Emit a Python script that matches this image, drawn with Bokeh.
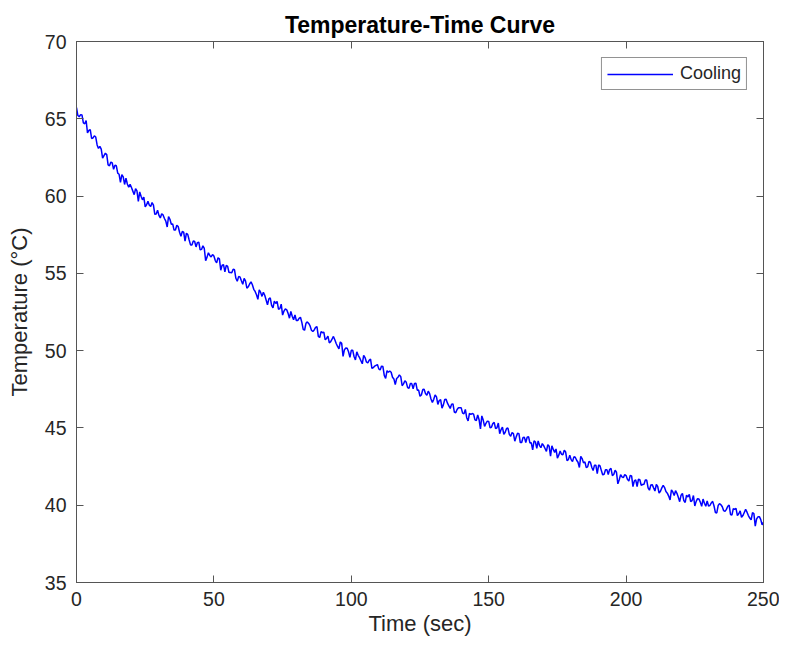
from bokeh.plotting import figure
from bokeh.models import Range1d, LinearAxis, FixedTicker, CustomJSTickFormatter, Legend, LegendItem
from bokeh.embed import file_html
from bokeh.resources import INLINE

# ---- data ----
# readings on whole seconds
time_whole = list(range(0, 251))
temp_whole = [
    65.72, 65.13, 65.24, 64.68, 64.09, 64.30, 63.76, 63.82, 63.08, 63.04,
    62.62, 62.68, 61.96, 62.14, 62.00, 61.48, 60.88, 61.24, 61.16, 60.57,
    60.55, 60.09, 60.33, 60.27, 59.76, 59.30, 59.66, 59.33, 59.42, 58.84,
    58.75, 58.85, 58.55, 58.00, 58.50, 58.20, 57.80, 58.03, 57.40, 57.67,
    57.60, 57.16, 56.84, 57.06, 56.99, 56.52, 56.78, 55.82, 56.33, 56.06,
    56.12, 55.68, 55.94, 55.53, 55.09, 55.45, 55.06, 55.27, 54.68, 54.79,
    54.52, 54.67, 54.04, 54.31, 54.26, 53.83, 53.32, 53.77, 53.78, 53.28,
    53.35, 52.93, 53.21, 53.19, 52.72, 52.30, 52.70, 52.41, 52.54, 52.00,
    51.95, 52.09, 51.83, 51.32, 51.86, 51.60, 51.24, 51.51, 50.92, 51.23,
    51.20, 50.79, 50.50, 50.75, 50.71, 50.27, 50.56, 49.63, 50.17, 49.93,
    50.02, 49.62, 49.92, 49.55, 49.15, 49.55, 49.20, 49.45, 48.90, 49.05,
    48.82, 49.00, 48.40, 48.70, 48.68, 48.28, 47.80, 48.28, 48.32, 47.85,
    47.95, 47.56, 47.87, 47.88, 47.44, 47.05, 47.48, 47.22, 47.38, 46.87,
    46.85, 47.01, 46.77, 46.28, 46.84, 46.60, 46.26, 46.55, 45.98, 46.31,
    46.30, 45.92, 45.66, 45.94, 45.93, 45.52, 45.84, 44.94, 45.51, 45.30,
    45.42, 45.04, 45.36, 45.01, 44.63, 45.05, 44.72, 44.99, 44.46, 44.63,
    44.42, 44.63, 44.06, 44.39, 44.40, 44.03, 43.58, 44.09, 44.16, 43.72,
    43.85, 43.48, 43.81, 43.84, 43.42, 43.05, 43.50, 43.26, 43.44, 42.95,
    42.95, 43.13, 42.91, 42.44, 43.02, 42.80, 42.48, 42.79, 42.24, 42.59,
    42.60, 42.24, 42.00, 42.30, 42.31, 41.92, 42.26, 41.38, 41.97, 41.78,
    41.92, 41.56, 41.90, 41.57, 41.21, 41.65, 41.34, 41.63, 41.12, 41.31,
    41.12, 41.34, 40.78, 41.12, 41.14, 40.78, 40.34, 40.86, 40.94, 40.51,
    40.65, 40.30, 40.65, 40.70, 40.30, 39.95, 40.42, 40.20, 40.40, 39.93,
    39.95, 40.15, 39.95, 39.50, 40.10, 39.90, 39.60, 39.93, 39.40, 39.77,
    39.80, 39.45, 39.22, 39.53, 39.55, 39.17, 39.52, 38.65, 39.25, 39.07,
    38.90,
]
# readings on half seconds (0.5, 1.5, ... 249.5)
time_half = [t + 0.5 for t in range(0, 250)]
temp_half = [
    65.21, 65.27, 64.73, 64.89, 64.25, 63.73, 63.90, 63.31, 63.22, 62.45,
    62.77, 62.02, 62.20, 61.73, 61.96, 61.41, 61.39, 60.75, 60.78, 60.76,
    60.32, 60.48, 59.65, 59.99, 59.93, 59.44, 59.41, 59.58, 58.82, 59.08,
    58.58, 58.78, 58.38, 58.68, 58.18, 57.80, 58.11, 57.66, 57.71, 57.08,
    57.51, 56.84, 57.10, 56.71, 57.02, 56.55, 56.61, 56.05, 56.16, 56.22,
    55.83, 56.01, 55.20, 55.56, 55.52, 55.05, 55.04, 55.23, 54.49, 54.77,
    54.29, 54.51, 54.13, 54.45, 53.97, 53.61, 53.94, 53.51, 53.58, 52.97,
    53.42, 52.77, 53.05, 52.68, 53.01, 52.56, 52.64, 52.10, 52.23, 52.31,
    51.95, 52.16, 51.38, 51.77, 51.76, 51.32, 51.34, 51.56, 50.85, 51.16,
    50.70, 50.94, 50.58, 50.92, 50.46, 50.12, 50.47, 50.06, 50.15, 49.56,
    50.03, 49.40, 49.70, 49.35, 49.70, 49.27, 49.37, 48.85, 49.00, 49.10,
    48.75, 48.97, 48.20, 48.60, 48.60, 48.17, 48.20, 48.43, 47.73, 48.05,
    47.61, 47.87, 47.53, 47.89, 47.45, 47.13, 47.50, 47.11, 47.22, 46.65,
    47.14, 46.52, 46.83, 46.49, 46.85, 46.43, 46.54, 46.03, 46.19, 46.30,
    45.96, 46.20, 45.45, 45.87, 45.89, 45.48, 45.53, 45.78, 45.10, 45.44,
    45.01, 45.28, 44.95, 45.32, 44.89, 44.58, 44.96, 44.58, 44.70, 44.14,
    44.65, 44.05, 44.38, 44.06, 44.44, 44.04, 44.17, 43.68, 43.86, 43.99,
    43.67, 43.92, 43.18, 43.61, 43.64, 43.24, 43.30, 43.56, 42.89, 43.24,
    42.82, 43.10, 42.78, 43.16, 42.74, 42.44, 42.83, 42.46, 42.59, 42.04,
    42.55, 41.96, 42.30, 41.99, 42.38, 41.99, 42.13, 41.65, 41.84, 41.98,
    41.67, 41.93, 41.20, 41.64, 41.68, 41.29, 41.36, 41.63, 40.97, 41.33,
    40.92, 41.21, 40.90, 41.29, 40.88, 40.59, 40.99, 40.63, 40.77, 40.23,
    40.76, 40.18, 40.53, 40.23, 40.63, 40.25, 40.40, 39.93, 40.13, 40.28,
    39.98, 40.25, 39.53, 39.98, 40.03, 39.65, 39.73, 40.01, 39.36, 39.73,
    39.33, 39.63, 39.33, 39.73, 39.33, 39.05, 39.46, 39.11, 39.26, 38.73,
]
x_ticks = [0, 50, 100, 150, 200, 250]
y_ticks = [35, 40, 45, 50, 55, 60, 65, 70]
series_name = "Cooling"
title_text = "Temperature-Time Curve"
x_label = "Time (sec)"
y_label = "Temperature (\u00b0C)"

pairs = sorted(zip(time_whole + time_half, temp_whole + temp_half))
time_sec = [a for a, _ in pairs]
temperature = [b for _, b in pairs]

FONT = "Liberation Sans"
AX = "#262626"
LINE_AX = "#555555"

p = figure(width=779, height=641, output_backend="svg", toolbar_location=None,
           x_range=Range1d(0, 250), y_range=Range1d(35, 70),
           min_border_left=76, min_border_right=16, min_border_top=41, min_border_bottom=59,
           title=title_text)
p.title.align = "center"
p.title.text_font = FONT
p.title.text_font_size = "23px"
p.title.text_font_style = "bold"
p.title.text_color = "#000000"
p.title.standoff = 8

p.grid.visible = False
p.outline_line_color = LINE_AX
p.outline_line_alpha = 1.0
p.background_fill_color = "white"
p.border_fill_color = "white"

for ax, ticks in ((p.xaxis[0], x_ticks), (p.yaxis[0], y_ticks)):
    ax.ticker = FixedTicker(ticks=ticks)
    ax.major_tick_in = 7
    ax.major_tick_out = 0
    ax.minor_tick_line_color = None
    ax.axis_line_color = LINE_AX
    ax.major_tick_line_color = LINE_AX
    ax.major_label_text_font = FONT
    ax.major_label_text_font_size = "19.5px"
    ax.major_label_text_color = AX
    ax.axis_label_text_font = FONT
    ax.axis_label_text_font_size = "22px"
    ax.axis_label_text_font_style = "normal"
    ax.axis_label_text_color = AX

p.xaxis[0].axis_label = x_label
p.yaxis[0].axis_label = y_label
p.xaxis[0].major_label_standoff = 9
p.xaxis[0].axis_label_standoff = 2
p.yaxis[0].major_label_standoff = 10
p.yaxis[0].axis_label_standoff = 10

# mirror ticks on top and right (MATLAB box style)
empty = CustomJSTickFormatter(code="return ''")
top = LinearAxis(ticker=FixedTicker(ticks=x_ticks), formatter=empty)
right = LinearAxis(ticker=FixedTicker(ticks=y_ticks), formatter=empty)
for ax in (top, right):
    ax.major_tick_in = 7
    ax.major_tick_out = 0
    ax.minor_tick_line_color = None
    ax.axis_line_color = LINE_AX
    ax.major_tick_line_color = LINE_AX
    ax.major_label_text_font_size = "1px"
    ax.major_label_standoff = 0
p.add_layout(top, "above")
p.add_layout(right, "right")

r = p.line(time_sec, temperature, line_color="#0000ff", line_width=1.5)

legend = Legend(items=[LegendItem(label=series_name, renderers=[r])],
                location="top_right")
legend.margin = 16
legend.padding = 5
legend.spacing = 0
legend.glyph_width = 66
legend.glyph_height = 18
legend.label_standoff = 7
legend.label_height = 18
legend.label_text_font = FONT
legend.label_text_font_size = "18px"
legend.label_text_color = AX
legend.border_line_color = AX
legend.border_line_width = 1
legend.background_fill_color = "white"
legend.background_fill_alpha = 1.0
p.add_layout(legend, "center")

open("out.html", "w").write(file_html(p, INLINE))
